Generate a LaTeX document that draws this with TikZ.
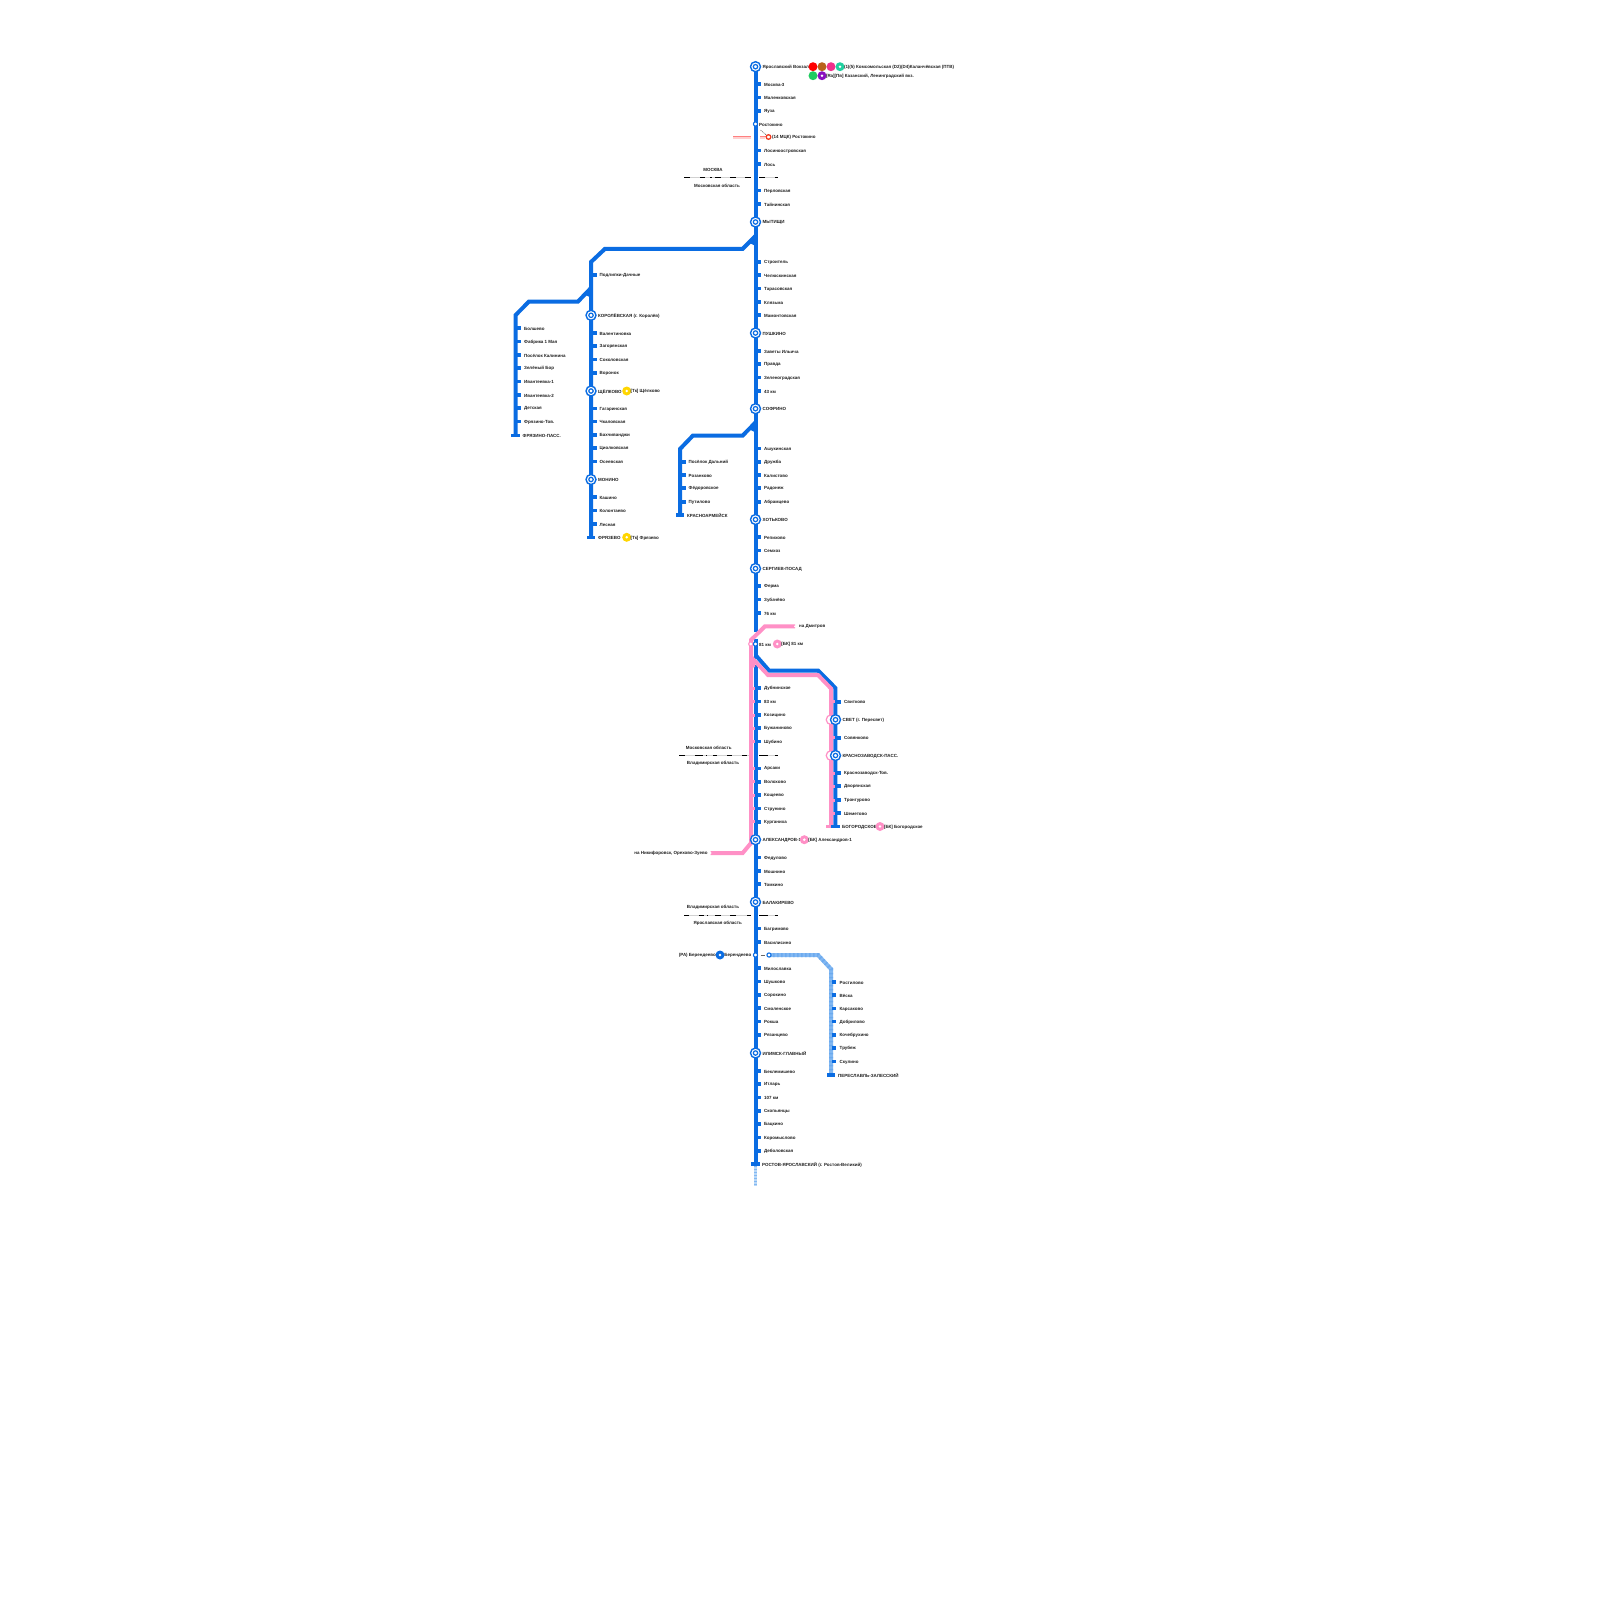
\documentclass[tikz,border=0pt]{standalone}
\usepackage{fontspec}
\usetikzlibrary{calc}
\setmainfont{Liberation Sans}
\definecolor{lb}{HTML}{0A6CE2}
\definecolor{lp}{HTML}{FF90C6}
\definecolor{ll}{HTML}{82B8F2}
\definecolor{ly}{HTML}{FFD600}
\definecolor{cbrown}{HTML}{B8621A}
\definecolor{cmag}{HTML}{F0308C}
\definecolor{cteal}{HTML}{20D0A0}
\definecolor{cgreen}{HTML}{20CC60}
\definecolor{cpurp}{HTML}{8A10C0}
\definecolor{cmck}{HTML}{F03A20}
\tikzset{
 lbl/.style={font=\fontsize{4.47}{5.4}\selectfont\bfseries, anchor=west, inner sep=0pt, text=black!88, yshift=-0.6pt},
 lblr/.style={lbl, anchor=east},
 lblc/.style={lbl, anchor=center},
 tickb/.style={rectangle, fill=lb, inner sep=0pt, minimum width=4pt, minimum height=3.6pt},
 tickp/.style={rectangle, fill=lp, inner sep=0pt, minimum width=2.8pt, minimum height=3pt},
 barb/.style={rectangle, fill=lb, inner sep=0pt, minimum width=8.5pt, minimum height=3.4pt},
 barp/.style={rectangle, fill=lp, inner sep=0pt, minimum width=8pt, minimum height=3.4pt},
 lineb/.style={draw=lb, line width=4pt, line join=miter},
 linep/.style={draw=lp, line width=4pt, line join=miter},
 linel/.style={draw=ll, line width=4pt, line join=miter},
 disc/.style={circle, inner sep=0pt, minimum size=9pt, fill=#1},
 hole/.style={circle, inner sep=0pt, minimum size=2.8pt, fill=white},
 smallring/.style={circle, inner sep=0pt, minimum size=4.2pt, fill=white, draw=#1, line width=1.1pt},
 outerring/.style={circle, inner sep=0pt, minimum size=10pt, fill=white, draw=lb, line width=1.4pt},
 innerring/.style={circle, inner sep=0pt, minimum size=4.4pt, fill=white, draw=lb, line width=1.2pt},
 pinkring/.style={circle, inner sep=0pt, minimum size=9.6pt, fill=white, draw=lp, line width=1.2pt},
 bord/.style={draw=black!18, line width=0.9pt},
 bordk/.style={draw=black, line width=1pt},
}
\newcommand{\stnlist}[4]{% prefix, tick x, text x, list y/label
 \foreach \yv/\lab [count=\iv] in {#4}{
  \node[tickb] (#1t\iv) at (#2,\yv) {};
  \node[lbl] (#1l\iv) at (#3,\yv) {\lab};
 }}
\newcommand{\pinkticks}[3]{% prefix, x, list
 \foreach \yv [count=\iv] in {#3}{ \node[tickp] (#1\iv) at (#2,\yv) {}; }}
\newcommand{\ich}[4]{% name, x, y, label
 \node[outerring] (#1) at (#2,#3) {};
 \node[innerring] (#1i) at (#2,#3) {};
 \node[lbl] (#1l) at (#2+7,#3) {#4};}
\newcommand{\transf}[5]{% name,colour,x,y,label
 \node[disc=#2] (#1) at (#3,#4) {};
 \node[hole] (#1h) at (#3,#4) {};
 \node[lbl] (#1l) at (#3+3.8,#4) {#5};}
\newcommand{\segs}[2]{% y, list of a/b
 \foreach \pa/\pb in {#2}{ \draw[bordk] (\pa,#1) -- (\pb,#1); }}
\begin{document}
\begin{tikzpicture}[x=1pt,y=-1pt]
\useasboundingbox (0,0) rectangle (1600,1600);
\fill[white] (0,0) rectangle (1600,1600);
% way points
\coordinate (A0) at (755.5,66.7);
\coordinate (A1) at (755.5,631.5);
\coordinate (A2) at (755.5,639);
\coordinate (A3) at (755.5,659);
\coordinate (A4) at (755.5,665);
\coordinate (A5) at (755.5,1164);
\coordinate (A6) at (755.5,1186);
\coordinate (B0) at (755.5,236);
\coordinate (B1) at (742.7,248.8);
\coordinate (B2) at (605,248.8);
\coordinate (B3) at (591,262);
\coordinate (B4) at (591,537);
\coordinate (C0) at (591,288);
\coordinate (C1) at (578,301.5);
\coordinate (C2) at (529,301.5);
\coordinate (C3) at (515.7,315);
\coordinate (C4) at (515.7,435.5);
\coordinate (D0) at (755.5,422.5);
\coordinate (D1) at (742.7,435.5);
\coordinate (D2) at (693,435.5);
\coordinate (D3) at (680,449);
\coordinate (D4) at (680,515);
\coordinate (E0) at (755.5,655);
\coordinate (E1) at (769,670.5);
\coordinate (E2) at (818,670.5);
\coordinate (E3) at (835.4,688);
\coordinate (E4) at (835.4,826.5);
\coordinate (P0) at (795,626.3);
\coordinate (P1) at (765,626.3);
\coordinate (P2) at (751,640);
\coordinate (P3) at (751,843);
\coordinate (P4) at (742.7,853);
\coordinate (P5) at (710.7,853);
\coordinate (Q0) at (751,657);
\coordinate (Q1) at (768,675);
\coordinate (Q2) at (818,675);
\coordinate (Q3) at (831,688.5);
\coordinate (Q4) at (831,826.5);
\coordinate (M0) at (733,137);
\coordinate (M1) at (751,137);
\coordinate (M2) at (760,137);
\coordinate (Y0) at (769,955);
\coordinate (Y1) at (818,955);
\coordinate (Y2) at (831,969);
\coordinate (Y3) at (831,1075);
% borders
\draw[bord] (684,177.5) -- (751,177.5) (759,177.5) -- (778,177.5);
\segs{177.5}{684/690,700/705,710/712,715/721,730/736,745/751,759/765,775/778}
\draw[bord] (679,755.3) -- (749,755.3) (759,755.3) -- (778,755.3);
\segs{755.3}{679/685,695/703,706/707,713/717,727/732,742/747,759/768,775/778}
\draw[bord] (684,915.4) -- (751,915.4) (759,915.4) -- (778,915.4);
\segs{915.4}{684/689,699/704,707/708,715/721,730/736,747/751,759/768,775/778}
% MCK stub
\draw[draw=red!18, line width=2.2pt] ($(M0)+(0,0.8)$) -- ($(M1)+(0,0.8)$);
\draw[draw=red!18, line width=2.2pt] ($(M2)+(5,0.8)$) -- ($(M2)+(0,0.8)$);
\draw[draw=red!50, line width=0.6pt] ($(M0)+(0,-0.6)$) -- ($(M1)+(0,-0.6)$) ($(M2)+(0,-0.6)$) -- ++(8,0);
% blue lines
\draw[lineb] (A0) -- (A1);
\draw[lineb] (A2) -- (A3);
\draw[lineb] (A4) -- (A5);
\draw[draw=ll, line width=3pt] (A5) -- (A6);
\draw[draw=white, line width=3pt, opacity=0.45, dash pattern=on 1.5pt off 1.5pt] (A5) -- (A6);
\draw[lineb] (B0) -- (B1) -- (B2) -- (B3) -- (B4);
\fill[lb] (755.5,232) -- (755.5,246) -- (749.5,243) -- cycle;
\draw[lineb] (C0) -- (C1) -- (C2) -- (C3) -- (C4);
\fill[lb] (591,284) -- (591.5,298) -- (585.5,295) -- cycle;
\draw[lineb] (D0) -- (D1) -- (D2) -- (D3) -- (D4);
\fill[lb] (755.5,418.5) -- (755.5,432.5) -- (749.5,429.5) -- cycle;
% pink lines
\draw[linep] (P0) -- (P1) -- (P2) -- (P3) -- (P4) -- (P5);
\fill[lp] (749,655) -- (755,660) -- (755,667) -- (749,669) -- cycle;
\draw[lineb] (E0) -- (E1) -- (E2) -- (E3) -- (E4);
\draw[linep] (Q0) -- (Q1) -- (Q2) -- (Q3) -- (Q4);
\pinkticks{pa}{753.4}{688,701.5,715,728,741.5,768.3,781.7,795,808.5,821.7}
\pinkticks{pb}{833.3}{701.7,737.8,773,786,800,813}
\node[barp] (pbar) at (829.5,826.5) {};
% light branch
\draw[linel] (Y0) -- (Y1) -- (Y2) -- (Y3);
\draw[draw=lb!18!ll, line width=4pt, dash pattern=on 1.5pt off 2.5pt] (Y0) -- (Y1) -- (Y2) -- (Y3);
% end white dots of pink
\node[circle, fill=white, inner sep=0pt, minimum size=2pt] (P0d) at (P0) {};
\node[circle, fill=white, inner sep=0pt, minimum size=2pt] (P5d) at (P5) {};
% Terminus bars
\node[barb] (barA) at (755.5,1164) {};
\node[barb] (barB) at (591,537.3) {};
\node[barb] (barC) at (515.7,435.5) {};
\node[barb] (barD) at (680,515) {};
\node[barb] (barE) at (835.5,826.5) {};
\node[barb] (barF) at (831,1075) {};
% station lists
\stnlist{m}{758.8}{764}{84/Москва-3,97.5/Маленковская,111/Яуза,150.5/Лосиноостровская,164/Лось,190.5/Перловская,204/Тайнинская,261.7/Строитель,275/Челюскинская,288.5/Тарасовская,302/Клязьма,315/Мамонтовская,351/Заветы Ильича,364/Правда,377.5/Зеленоградская,391/43 км,448.5/Ашукинская,461.7/Дружба,475/Калистово,488/Радонеж,501.7/Абрамцево,537/Репихово,550.5/Семхоз,586/Ферма,599.5/Зубачёво,613/76 км,688/Дубнинское,701.5/83 км,715/Козицино,728/Бужаниново,741.5/Шубино,768.3/Арсаки,781.7/Волохово,795/Кощеево,808.5/Струнино,821.7/Курганиха,857.5/Федулово,871/Мошнино,884/Томкино,928.5/Багримово,942/Василисино,968/Милославка,981.5/Шушково,995/Сорокино,1008/Смоленское,1021.5/Рокша,1035/Рязанцево,1071/Беклемишево,1084/Итларь,1097.5/107 км,1111/Скопьянцы,1124/Бацкино,1137.5/Коромыслово,1151/Деболовская}
\stnlist{f}{594.8}{599.5}{275/Подлипки-Дачные,333/Валентиновка,346/Загорянская,359.5/Соколовская,373/Воронок,408.5/Гагаринская,421.5/Чкаловская,435/Бахчиванджи,448/Циолковская,461.5/Осеевская,497/Кашино,510.5/Колонтаево,524/Лесная}
\stnlist{i}{519.3}{524}{328/Болшево,341.5/Фабрика 1 Мая,355/Посёлок Калинина,368/Зелёный Бор,381.5/Ивантеевка-1,395/Ивантеевка-2,408/Детская,421.5/Фрязино-Тов.}
\stnlist{k}{683.8}{688.5}{461.7/Посёлок Дальний,475/Розанково,488/Фёдоровское,501.7/Путилово}
\stnlist{s}{839}{844}{701.7/Свитково,737.8/Совянково,773/Краснозаводск-Тов.,786/Дворянская,800/Тронгурово,813/Шеметово}
\stnlist{p}{833.8}{839.5}{982/Ростилово,995/Вёска,1008.5/Карсаково,1021.5/Добрилово,1035/Кочебрухино,1048/Трубеж,1061.5/Скулино}
% terminus labels
\node[lbl] (barCl) at (522.5,435.5) {ФРЯЗИНО-ПАСС.};
\node[lbl] (barBl) at (598,537.3) {ФРЯЗЕВО};
\node[lbl] (barDl) at (687,515) {КРАСНОАРМЕЙСК};
\node[lbl] (barAl) at (762,1164) {РОСТОВ-ЯРОСЛАВСКИЙ (г. Ростов-Великий)};
\node[lbl] (barEl) at (842,826.5) {БОГОРОДСКОЕ};
\node[lbl] (barFl) at (838,1075) {ПЕРЕСЛАВЛЬ-ЗАЛЕССКИЙ};
% pink rings behind blue interchanges
\node[pinkring] (prA) at (831,719.7) {};
\node[pinkring] (prB) at (831,755.5) {};
% interchanges
\ich{yar}{755.5}{66.7}{Ярославский Вокзал}
\ich{myt}{755.5}{222}{МЫТИЩИ}
\ich{pus}{755.5}{333}{ПУШКИНО}
\ich{sof}{755.5}{408.7}{СОФРИНО}
\ich{hot}{755.5}{519.5}{ХОТЬКОВО}
\ich{ser}{755.5}{568.5}{СЕРГИЕВ-ПОСАД}
\ich{ale}{755.5}{839.7}{АЛЕКСАНДРОВ-1}
\ich{bal}{755.5}{902}{БАЛАКИРЕВО}
\ich{ili}{755.5}{1053}{ИЛИМСК-ГЛАВНЫЙ}
\ich{kor}{591}{315.3}{КОРОЛЁВСКАЯ (г. Королёв)}
\ich{she}{591}{391}{ЩЁЛКОВО}
\ich{mon}{591}{479.5}{МОНИНО}
\ich{sve}{835.5}{719.7}{СВЕТ (г. Пересвет)}
\ich{kra}{835.5}{755.5}{КРАСНОЗАВОДСК-ПАСС.}
% small rings
\node[smallring=lb] (ros) at (755.5,124) {};
\node[lbl] (rosl) at (759,124) {Ростокино};
\node[smallring=lp] (km81p) at (750.8,644) {};
\node[smallring=lb] (km81) at (755.5,644) {};
\node[lbl] (km81l) at (759,644) {81 км};
\node[smallring=lb] (ber) at (755.5,955) {};
\node[lblr] (berl) at (751.5,955) {Берендеево};
\node[smallring=lb] (ber2) at (769,955) {};
\draw[draw=black!60, line width=0.7pt] ($(ber)+(5,0)$) -- ++(4,0);
\node[smallring=cmck, minimum size=4.6pt, line width=1.3pt] (mck) at (768.5,137) {};
\node[lbl] (mckl) at (772,137) {(14 МЦК) Ростокино};
\draw[draw=black!55, line width=0.6pt, dash pattern=on 1.2pt off 0.8pt] ($(ros)+(5,6)$) -- (mck);
% interchange discs
\transf{y2}{ly}{626.7}{391}{[Тк] Щёлково}
\transf{y3}{ly}{626.7}{537.3}{[Тк] Фрязево}
\transf{b1}{lp}{777.3}{644}{[БК] 81 км}
\transf{b2}{lp}{804.3}{839.7}{[БК] Александров-1}
\transf{b3}{lp}{880}{826.5}{[БК] Богородское}
\node[disc=red] (r1) at (813,66.7) {};
\node[disc=cbrown] (r2) at (822,66.7) {};
\node[disc=cmag] (r3) at (831,66.7) {};
\transf{r4}{cteal}{840}{66.7}{(1)(5) Комсомольская (D2)(D4)Каланчёвская (ПТВ)}
\node[disc=cgreen] (r5) at (813,75.7) {};
\transf{r6}{cpurp}{822}{75.7}{[Ra][Пв] Казанский, Ленинградский вкз.}
\node[disc=lb] (ra) at (720,955) {};
\node[hole] (rah) at (720,955) {};
\node[lblr] (ral) at (716,955) {(РА) Берендеево};
% free labels
\node[lbl] (dm) at (799,626.3) {на Дмитров};
\node[lblr] (nik) at (707.7,853) {на Никифоровск, Орехово-Зуево};
\node[lblc] (b1a) at (713,169) {МОСКВА};
\node[lblc] (b1b) at (717,185) {Московская область};
\node[lblc] (b2a) at (708.7,747.3) {Московская область};
\node[lblc] (b2b) at (713,763) {Владимирская область};
\node[lblc] (b3a) at (713,907) {Владимирская область};
\node[lblc] (b3b) at (717.7,923) {Ярославская область};
\end{tikzpicture}
\end{document}
